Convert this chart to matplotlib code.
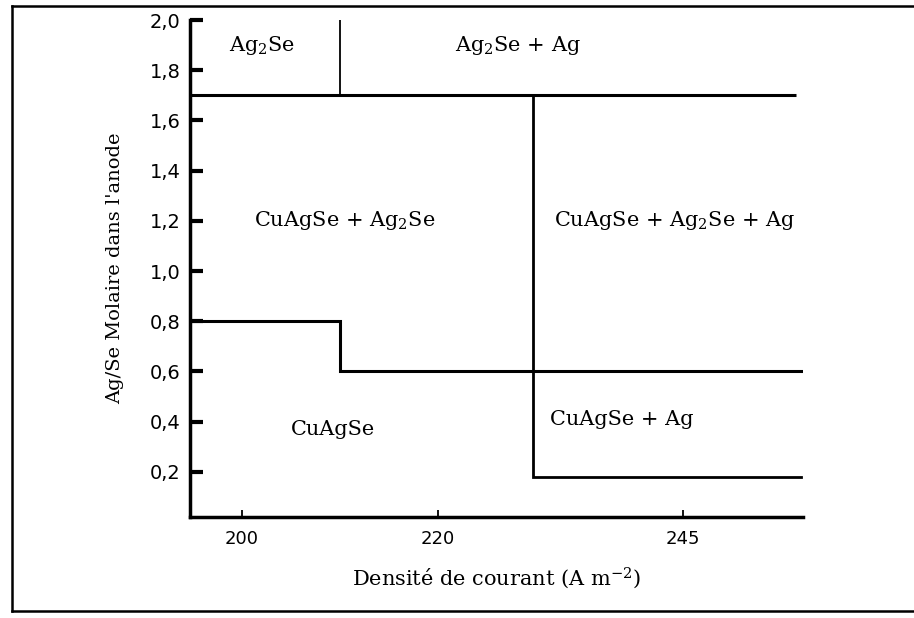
import matplotlib.pyplot as plt
from matplotlib.lines import Line2D

# phase diagram Ag/Se vs current density
plt.rcParams['mathtext.fontset'] = 'dejavuserif'

X_MIN, X_MAX = 194.7, 257.2
Y_MIN, Y_MAX = 0.02, 2.0

# boundaries (x values in A m-2, y values Ag/Se molar)
top_line_x = [X_MIN, 256.5]
top_line_y = [1.7, 1.7]
ag2se_split_x = [210, 210]
ag2se_split_y = [1.7, 2.0]
step_x = [X_MIN, 210, 210, 257.0]
step_y = [0.8, 0.8, 0.6, 0.6]
right_x = [229.7, 229.7, 257.0]
right_y = [1.7, 0.18, 0.18]

# region labels
region_names = ["Ag$_2$Se", "Ag$_2$Se + Ag", "CuAgSe + Ag$_2$Se",
                "CuAgSe + Ag$_2$Se + Ag", "CuAgSe", "CuAgSe + Ag"]
region_x = [202.0, 228.1, 210.5, 244.1, 209.3, 238.7]
region_y = [1.90, 1.90, 1.20, 1.20, 0.37, 0.41]

y_ticks = [0.2, 0.4, 0.6, 0.8, 1.0, 1.2, 1.4, 1.6, 1.8, 2.0]
y_labels = ["0,2", "0,4", "0,6", "0,8", "1,0", "1,2", "1,4", "1,6", "1,8", "2,0"]
x_ticks = [200, 220, 245]
x_labels = ["200", "220", "245"]

SERIF = "DejaVu Serif"
SANS = "DejaVu Sans"

fig = plt.figure(figsize=(9.14, 6.18), dpi=100)
ax = fig.add_axes([190 / 914, 1 - 517 / 618, (803 - 190) / 914, (517 - 20) / 618])

ax.plot(top_line_x, top_line_y, color='black', lw=2.2, solid_capstyle='butt')
ax.plot(ag2se_split_x, ag2se_split_y, color='black', lw=1.3)
ax.plot(step_x, step_y, color='black', lw=2.2, solid_joinstyle='miter')
ax.plot(right_x, right_y, color='black', lw=2.0, solid_joinstyle='miter')

for name, x, y in zip(region_names, region_x, region_y):
    ax.text(x, y, name, ha='center', va='center', fontsize=15, family=SERIF)

ax.set_xlim(X_MIN, X_MAX)
ax.set_ylim(Y_MIN, Y_MAX)
ax.set_yticks(y_ticks)
ax.set_yticklabels(y_labels, family=SANS, fontsize=14)
ax.set_xticks(x_ticks)
ax.set_xticklabels(x_labels, family=SANS, fontsize=13)
ax.tick_params(axis='y', direction='in', length=9, width=3, pad=7)
ax.tick_params(axis='x', direction='in', length=5, width=1.3, pad=9)

for s in ['top', 'right']:
    ax.spines[s].set_visible(False)
for s in ['left', 'bottom']:
    ax.spines[s].set_linewidth(2.5)

ax.set_xlabel("Densité de courant (A m$^{-2}$)", family=SERIF, fontsize=15, labelpad=13)
ax.set_ylabel("Ag/Se Molaire dans l'anode", family=SERIF, fontsize=14, labelpad=18)

# frame around the figure (no right side)
fw, fh = 914, 618
frame = [([12, fw], [6, 6]), ([12, 12], [6, 611]), ([12, fw], [611, 611])]
for fx, fy in frame:
    fig.add_artist(Line2D([v / fw for v in fx], [1 - v / fh for v in fy],
                          color='black', lw=1.8, transform=fig.transFigure))

fig.savefig("out.png", dpi=100)
